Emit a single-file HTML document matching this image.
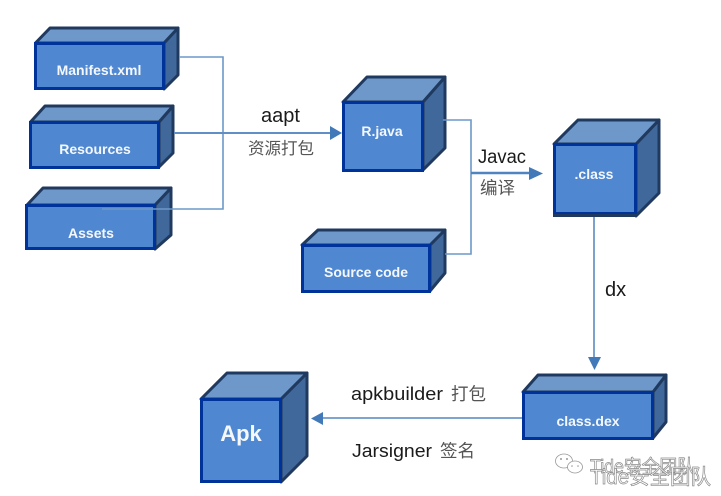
<!DOCTYPE html>
<html><head><meta charset="utf-8"><style>
html,body{margin:0;padding:0;background:#fff;width:721px;height:496px;overflow:hidden}
svg{display:block;filter:blur(.35px)}
.b{font:bold 14px "Liberation Sans","Noto Sans CJK SC",sans-serif;fill:#f4f8fd;text-anchor:middle}
.t{font-family:"Liberation Sans","Noto Sans CJK SC",sans-serif;fill:#1a1a1a}
.c{font-family:"Noto Sans CJK SC","Liberation Sans",sans-serif;fill:#555}
.side{fill:#41689b;stroke:#203a5f;stroke-width:3;stroke-linejoin:round}
.top{fill:#6f98ca;stroke:#203a5f;stroke-width:3;stroke-linejoin:round}
.front{fill:#4f87d0;stroke:#003399;stroke-width:3}
.l{fill:none;stroke:#6c98c8;stroke-width:1.6}
.wm{font-family:"Liberation Sans","Noto Sans CJK SC",sans-serif;fill:#fff;stroke:#8a8a8a;stroke-width:.7}
</style></head><body>
<svg width="721" height="496" viewBox="0 0 721 496" xmlns="http://www.w3.org/2000/svg">
<rect width="721" height="496" fill="#fff"/>

<!-- Manifest -->
<polygon class="side" points="164,43 178,28 178,75 164,89"/>
<polygon class="top" points="35.500,43 50,28 178,28 164,43"/>
<rect class="front" x="35.500" y="43.500" width="128" height="45"/>
<!-- Resources -->
<polygon class="side" points="159,122 173,106 173,153 159,167"/>
<polygon class="top" points="30.500,122 45,106 173,106 159,122"/>
<rect class="front" x="30.500" y="122.500" width="128" height="45"/>
<!-- Assets -->
<polygon class="side" points="155,205 171,188 171,235 155,249"/>
<polygon class="top" points="27,205 43,188 171,188 155,205"/>
<rect class="front" x="26.500" y="205.500" width="128" height="43"/>
<!-- R.java -->
<polygon class="side" points="423,102 445,77 445,148 423,170"/>
<polygon class="top" points="343,102 367,77 445,77 423,102"/>
<rect class="front" x="343.500" y="102.500" width="79" height="68"/>
<!-- Source code -->
<polygon class="side" points="430,245 445,230 445,273 430,291"/>
<polygon class="top" points="302,245 318,230 445,230 430,245"/>
<rect class="front" x="302.500" y="245.500" width="127" height="46"/>
<!-- .class -->
<polygon class="side" points="636,144 659,120 659,193 636,216"/>
<polygon class="top" points="554,144 578,120 659,120 636,144"/>
<rect class="front" x="554.500" y="144.500" width="81" height="69"/>
<rect x="553" y="214" width="84" height="3" fill="#203a5f"/>
<!-- class.dex -->
<polygon class="side" points="653,392 666,375 666,422 653,438"/>
<polygon class="top" points="523,392 538,375 666,375 653,392"/>
<rect class="front" x="523.500" y="392.500" width="129" height="46"/>
<!-- Apk -->
<polygon class="side" points="281,399 307,373 307,456 281,482"/>
<polygon class="top" points="201,399 227,373 307,373 281,399"/>
<rect class="front" x="201.500" y="399.500" width="79" height="82"/>

<!-- connectors -->
<polyline class="l" points="179,57 223,57 223,209 102,209"/>
<line x1="174" y1="133" x2="333" y2="133" stroke="#5f8fc6" stroke-width="2"/>
<polygon points="330,126 342,133 330,140" fill="#4279b9"/>
<polyline class="l" points="443,120 471,120 471,254 445,254"/>
<line x1="471" y1="173" x2="531" y2="173" stroke="#4f84c0" stroke-width="2.400"/>
<polygon points="529,167 543,173.500 529,180" fill="#4279b9"/>
<line x1="594" y1="217" x2="594" y2="359" stroke="#6c98c8" stroke-width="1.800"/>
<polygon points="588,357 601,357 594.500,370" fill="#4279b9"/>
<line x1="322" y1="418" x2="522" y2="418" stroke="#6c98c8" stroke-width="1.800"/>
<polygon points="311,418.500 323,412 323,425" fill="#4279b9"/>

<!-- box labels -->
<text class="b" x="99" y="75">Manifest.xml</text>
<text class="b" x="95" y="154">Resources</text>
<text class="b" x="91" y="238">Assets</text>
<text class="b" x="382" y="136">R.java</text>
<text class="b" x="366" y="277">Source code</text>
<text class="b" x="594" y="179">.class</text>
<text class="b" x="588" y="426">class.dex</text>
<text class="b" x="241" y="441" style="font-size:22px">Apk</text>

<!-- edge labels -->
<text class="t" x="261" y="122" font-size="20">aapt</text>
<text class="c" x="248" y="154" font-size="16.500">资源打包</text>
<text class="t" x="478" y="163" font-size="19" textLength="48" lengthAdjust="spacingAndGlyphs">Javac</text>
<text class="c" x="480" y="194" font-size="17.500">编译</text>
<text class="t" x="605" y="296" font-size="20">dx</text>
<text class="t" x="351" y="400" font-size="18" textLength="92" lengthAdjust="spacingAndGlyphs">apkbuilder</text>
<text class="c" x="451" y="400" font-size="17.500">打包</text>
<text class="t" x="352" y="457" font-size="18" textLength="80" lengthAdjust="spacingAndGlyphs">Jarsigner</text>
<text class="c" x="440" y="457" font-size="17.500">签名</text>

<!-- watermark -->
<g fill="#fff" stroke="#999" stroke-width=".8">
<ellipse cx="564" cy="461" rx="8.500" ry="7"/>
<ellipse cx="575" cy="467" rx="7.500" ry="6"/>
</g>
<g fill="#999"><circle cx="561" cy="459" r="1"/><circle cx="567" cy="459" r="1"/><circle cx="572" cy="466" r=".8"/><circle cx="578" cy="466" r=".8"/></g>
<text class="wm" x="590" y="473" font-size="19" textLength="105" lengthAdjust="spacingAndGlyphs">Tide安全团队</text>
<text class="wm" x="590" y="484" font-size="21" textLength="121" lengthAdjust="spacingAndGlyphs">Tide安全团队</text>
</svg>
</body></html>
